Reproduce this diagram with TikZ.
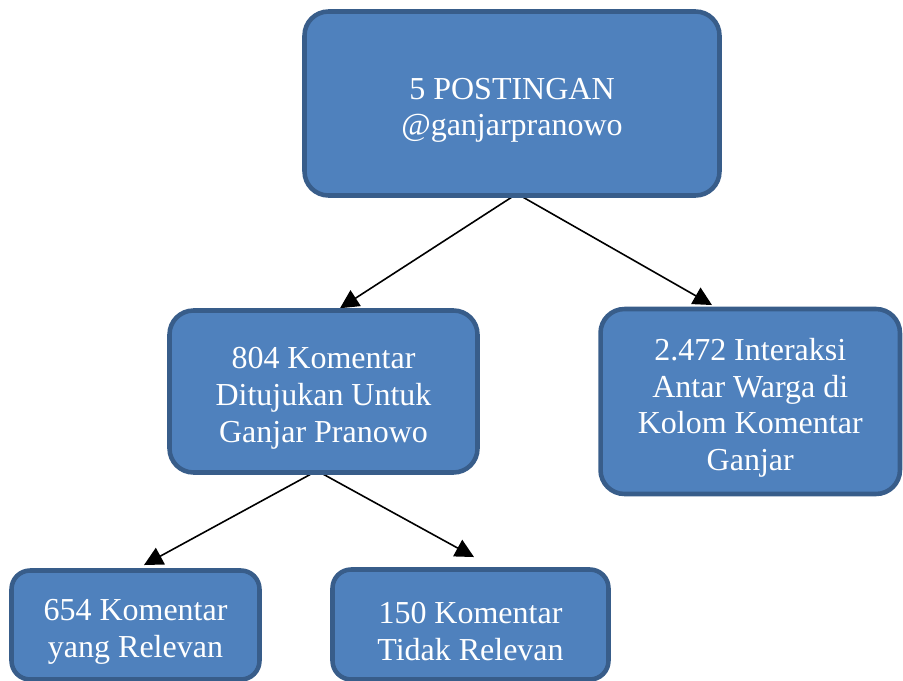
\documentclass[tikz,border=0pt]{standalone}
\usepackage{fontspec}
\setmainfont{Liberation Serif}
\usetikzlibrary{arrows.meta,calc,backgrounds}
\definecolor{boxfill}{HTML}{4F81BD}
\definecolor{boxline}{HTML}{385D8A}
\newcommand{\lowstrut}{\rule{0pt}{26pt}}
\tikzset{
  box/.style={draw=boxline, fill=boxfill, line width=3.4pt, rounded corners=18pt,
    text=white, align=center, font=\fontsize{24}{27.5}\selectfont, inner sep=0pt},
  arr/.style={draw=black, line width=1.2pt, -{Triangle[length=14pt,width=14pt]}},
}
\begin{document}
\begin{tikzpicture}[x=0.75pt,y=-0.75pt]
\useasboundingbox (0,0) rectangle (903,681);
\clip (0,0) rectangle (903,681);
\node[box, minimum width=311.25pt, minimum height=138pt] (top) at (512,103.5)
  {\lowstrut 5 POSTINGAN\\@ganjarpranowo};
\node[box, minimum width=231pt, minimum height=121.5pt] (ml) at (323.5,391.5)
  {\lowstrut 804 Komentar\\Ditujukan Untuk\\Ganjar Pranowo};
\node[box, minimum width=224.6pt, minimum height=138.75pt] (rt) at (750.25,401.5)
  {\lowstrut 2.472 Interaksi\\Antar Warga di\\Kolom Komentar\\Ganjar};
\node[box, rounded corners=14pt, minimum width=186pt, minimum height=81.75pt] (bl) at (135.5,625)
  {\lowstrut 654 Komentar\\yang Relevan};
\node[box, rounded corners=14pt, minimum width=207pt, minimum height=82.5pt] (bm) at (470.5,624.5)
  {\lowstrut 150 Komentar\\Tidak Relevan};
\begin{pgfonlayer}{background}
\draw[arr] ($(top.south)+(5,-4)$) -- ($(ml.north)+(16.5,0)$);
\draw[arr] ($(top.south)+(5,-4)$) -- ($(rt.north)+(-38.25,-1.7)$);
\draw[arr] ($(ml.south)+(-6.5,-4)$) -- ($(bl.north)+(8.5,-3.2)$);
\draw[arr] ($(ml.south)+(-6.5,-4)$) -- ($(bm.north)+(3.5,-10.2)$);
\end{pgfonlayer}
\end{tikzpicture}
\end{document}
